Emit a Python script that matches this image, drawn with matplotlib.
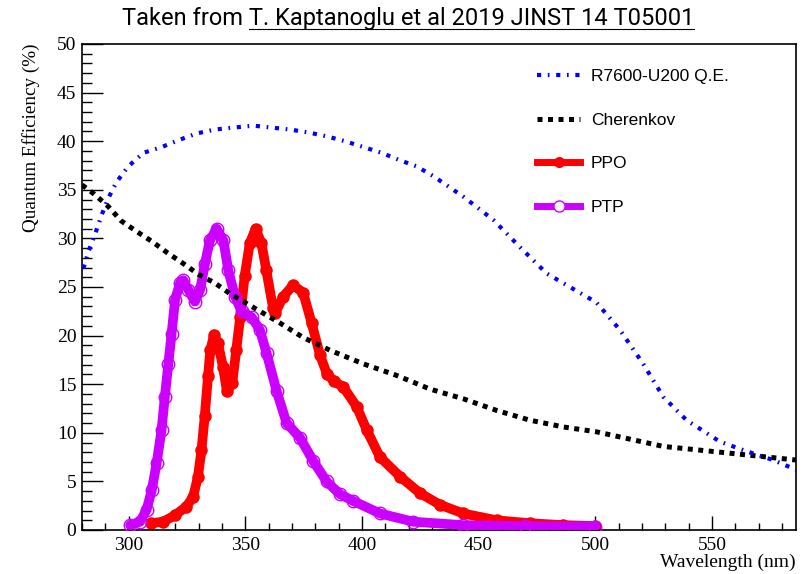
import matplotlib
matplotlib.use("Agg")
import matplotlib.pyplot as plt
from matplotlib.ticker import MultipleLocator
from matplotlib.lines import Line2D

# ---- data ----
qe_wl = [280.6, 282.7, 285.7, 288.4, 291.2, 294.8, 299.8, 306.3, 314.2, 321.3, 329.2, 337.0,
         344.9, 353.5, 361.3, 369.2, 377.0, 384.9, 392.7, 400.6, 408.4, 415.6, 423.5, 430.6,
         443.4, 456.3, 467.7, 479.1, 493.4, 500.5, 510.5, 520.5, 529.1, 539.1, 553.3, 564.8,
         576.2, 586.0]
qe_val = [26.9, 28.6, 30.5, 32.4, 34.1, 35.8, 37.4, 38.8, 39.4, 40.1, 40.8, 41.2,
          41.4, 41.6, 41.4, 41.2, 40.9, 40.5, 40.0, 39.4, 38.8, 38.1, 37.4, 36.4,
          34.3, 31.9, 29.1, 26.4, 24.4, 23.4, 20.6, 17.1, 13.7, 11.3, 9.1, 8.1,
          7.2, 6.2]

ch_wl = [280.0, 285.0, 291.2, 296.8, 303.5, 309.9, 316.7, 323.5, 329.9, 337.0, 343.5,
         364.8, 374.8, 386.2, 400.5, 414.9, 429.1, 443.4, 457.7, 471.9, 486.3, 500.5,
         529.1, 557.7, 586.0]
ch_val = [35.5, 34.6, 33.3, 31.8, 30.7, 29.7, 28.5, 27.4, 26.3, 25.4, 24.3,
          21.3, 19.8, 18.5, 17.1, 15.9, 14.5, 13.5, 12.3, 11.3, 10.6, 10.1,
          8.6, 7.9, 7.2]

ppo_wl = [309.7, 314.7, 319.7, 324.7, 327.6, 329.7, 331.2, 332.6, 334.0, 335.0, 336.6,
          338.3, 340.4, 342.1, 344.4, 346.1, 347.8, 349.7, 351.9, 354.4, 356.9, 359.0,
          361.9, 362.8, 366.2, 370.5, 374.8, 378.4, 382.0, 384.9, 388.0, 392.0, 397.7,
          402.0, 407.7, 416.3, 424.8, 433.4, 443.4, 457.7, 471.9, 486.0, 500.0]
ppo_val = [0.7, 0.85, 1.5, 2.4, 3.4, 5.5, 8.2, 11.7, 15.8, 18.5, 20.1,
           19.2, 16.8, 14.3, 15.1, 18.5, 21.9, 26.1, 29.5, 31.0, 29.5, 26.7,
           22.8, 22.3, 24.0, 25.2, 24.4, 21.3, 18.0, 16.1, 15.3, 14.7, 12.7,
           10.3, 7.5, 5.5, 3.8, 2.6, 1.7, 1.0, 0.7, 0.5, 0.4]

ptp_wl = [300.6, 304.9, 307.7, 309.9, 312.0, 314.1, 315.5, 317.0, 318.4, 319.9, 322.0,
          323.4, 325.6, 328.4, 330.6, 332.7, 334.8, 337.7, 340.6, 342.7, 345.6, 348.4,
          352.7, 356.2, 359.1, 363.4, 367.7, 373.4, 379.1, 384.8, 390.5, 396.1, 407.7,
          422.0, 443.4, 470.0, 500.0]
ptp_val = [0.5, 0.85, 2.1, 4.1, 6.9, 10.3, 13.7, 17.1, 20.2, 23.7, 25.4,
           25.7, 24.7, 23.5, 24.7, 27.4, 29.8, 31.0, 29.8, 26.7, 24.0, 22.5,
           21.9, 20.6, 18.2, 14.3, 11.0, 9.5, 7.1, 5.0, 3.7, 3.0, 1.7,
           0.85, 0.5, 0.4, 0.35]

labels = ["R7600-U200 Q.E.", "Cherenkov", "PPO", "PTP"]
title_plain = "Taken from "
title_link = "T. Kaptanoglu et al 2019 JINST 14 T05001"

W, H = 807, 574
fig = plt.figure(figsize=(W / 100, H / 100), dpi=100)
ax = fig.add_axes([82 / W, 1 - 530 / H, (796 - 82) / W, (530 - 44) / H])

purple = "#cc00ff"
ax.plot(ppo_wl, ppo_val, color="red", lw=7, marker="o", ms=9, mew=0,
        solid_capstyle="round", solid_joinstyle="round", zorder=2)
ax.plot(ptp_wl, ptp_val, color=purple, lw=7, marker="o", ms=9, mfc="none",
        mec=purple, mew=1.0, solid_capstyle="round", solid_joinstyle="round", zorder=3)
l_ch, = ax.plot(ch_wl, ch_val, color="black", lw=3.6, linestyle=(0, (1, 1.1)),
                dash_capstyle="butt", zorder=4)
l_qe, = ax.plot(qe_wl, qe_val, color="blue", lw=3.0, linestyle=(0, (1, 1.6, 0.4, 1.6)),
                dash_capstyle="butt", zorder=5)

# legend proxies (thinner lines as in the reference legend)
h_ppo = Line2D([], [], color="red", lw=5, marker="o", ms=8, mew=0)
h_ptp = Line2D([], [], color=purple, lw=5, marker="o", ms=8, mfc="white", mec=purple, mew=1.0)

ax.set_xlim(280, 586)
ax.set_ylim(0, 50)
ax.xaxis.set_major_locator(MultipleLocator(50))
ax.xaxis.set_minor_locator(MultipleLocator(10))
ax.yaxis.set_major_locator(MultipleLocator(5))
ax.yaxis.set_minor_locator(MultipleLocator(1))

serif = ["Liberation Serif", "DejaVu Serif"]
ax.tick_params(axis="both", which="both", direction="in", top=False, right=False,
               width=1.0, color="black")
ax.tick_params(axis="y", which="major", length=15, pad=4)
ax.tick_params(axis="y", which="minor", length=7.5)
ax.tick_params(axis="x", which="major", length=10, pad=5)
ax.tick_params(axis="x", which="minor", length=5)
for lab in ax.get_xticklabels() + ax.get_yticklabels():
    lab.set_family(serif)
    lab.set_fontsize(14)
for s in ax.spines.values():
    s.set_linewidth(1.2)

ax.set_ylabel("Quantum Efficiency (%)", family=serif, fontsize=13.8, loc="top")
ax.yaxis.set_label_coords(-0.059, 1.0)
ax.set_xlabel("Wavelength (nm)", family=serif, fontsize=14, loc="right")
ax.xaxis.set_label_coords(1.0, -0.048)

leg = ax.legend([l_qe, l_ch, h_ppo, h_ptp], labels, frameon=False, loc="upper left",
                bbox_to_anchor=(537 / W, 1 - 69 / H), bbox_transform=fig.transFigure,
                prop={"family": "Liberation Sans", "size": 12.5}, handlelength=2.5,
                handletextpad=0.6, labelspacing=1.64, borderpad=0, borderaxespad=0,
                numpoints=1)

# title with underlined reference
tfont = dict(family=["Roboto", "Liberation Sans"], fontsize=17, fontweight="normal")
t = fig.text(408 / W, 1 - 18 / H, title_plain + title_link, ha="center", va="center", **tfont)
fig.canvas.draw()
r = fig.canvas.get_renderer()
bb = t.get_window_extent(r)
tmp = fig.text(0, 0, title_link, **tfont)
wlink = tmp.get_window_extent(r).width
tmp.remove()
yline = bb.y0 + 1
fig.add_artist(Line2D([(bb.x1 - wlink) / W, bb.x1 / W], [yline / H, yline / H],
                      color="black", lw=0.8, transform=fig.transFigure))

fig.savefig("out.png", dpi=100)
